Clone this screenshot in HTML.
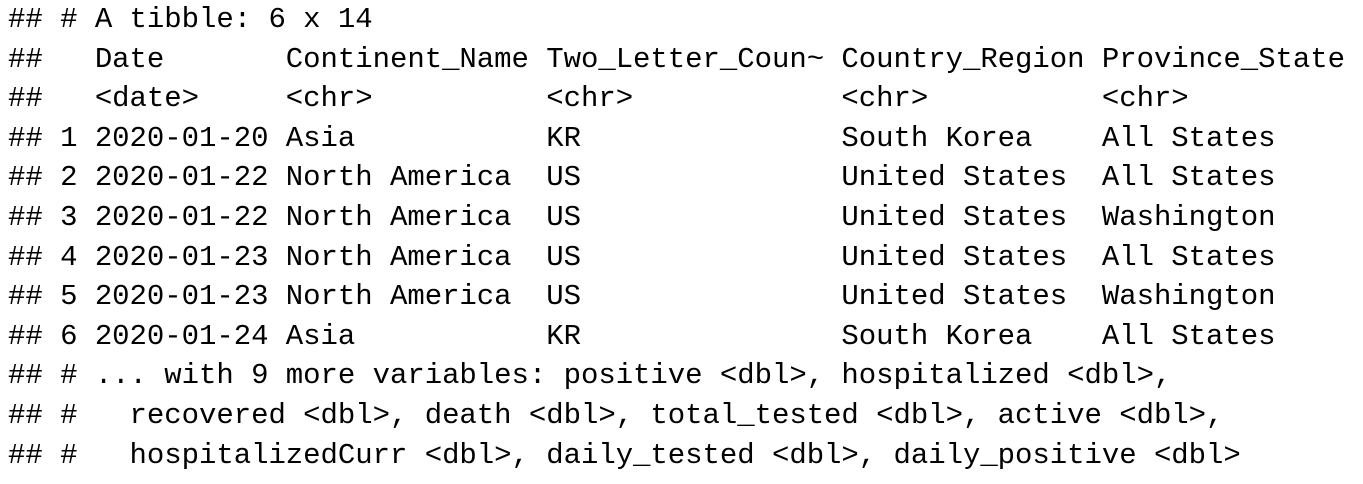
<!DOCTYPE html>
<html>
<head>
<meta charset="utf-8">
<style>
  html, body { margin:0; padding:0; background:#fff; }
  body { width:1363px; height:484px; overflow:hidden; }
  pre {
    margin:0;
    position:absolute; left:8px; top:0px;
    font-family:"Liberation Mono", "DejaVu Sans Mono", monospace;
    font-size:29px;
    line-height:39.6px;
    letter-spacing:-0.04px;
    color:#000;
  }
</style>
</head>
<body>
<pre>## # A tibble: 6 x 14
##   Date       Continent_Name Two_Letter_Coun~ Country_Region Province_State
##   &lt;date&gt;     &lt;chr&gt;          &lt;chr&gt;            &lt;chr&gt;          &lt;chr&gt;         
## 1 2020-01-20 Asia           KR               South Korea    All States    
## 2 2020-01-22 North America  US               United States  All States    
## 3 2020-01-22 North America  US               United States  Washington    
## 4 2020-01-23 North America  US               United States  All States    
## 5 2020-01-23 North America  US               United States  Washington    
## 6 2020-01-24 Asia           KR               South Korea    All States    
## # ... with 9 more variables: positive &lt;dbl&gt;, hospitalized &lt;dbl&gt;,
## #   recovered &lt;dbl&gt;, death &lt;dbl&gt;, total_tested &lt;dbl&gt;, active &lt;dbl&gt;,
## #   hospitalizedCurr &lt;dbl&gt;, daily_tested &lt;dbl&gt;, daily_positive &lt;dbl&gt;</pre>
</body>
</html>
